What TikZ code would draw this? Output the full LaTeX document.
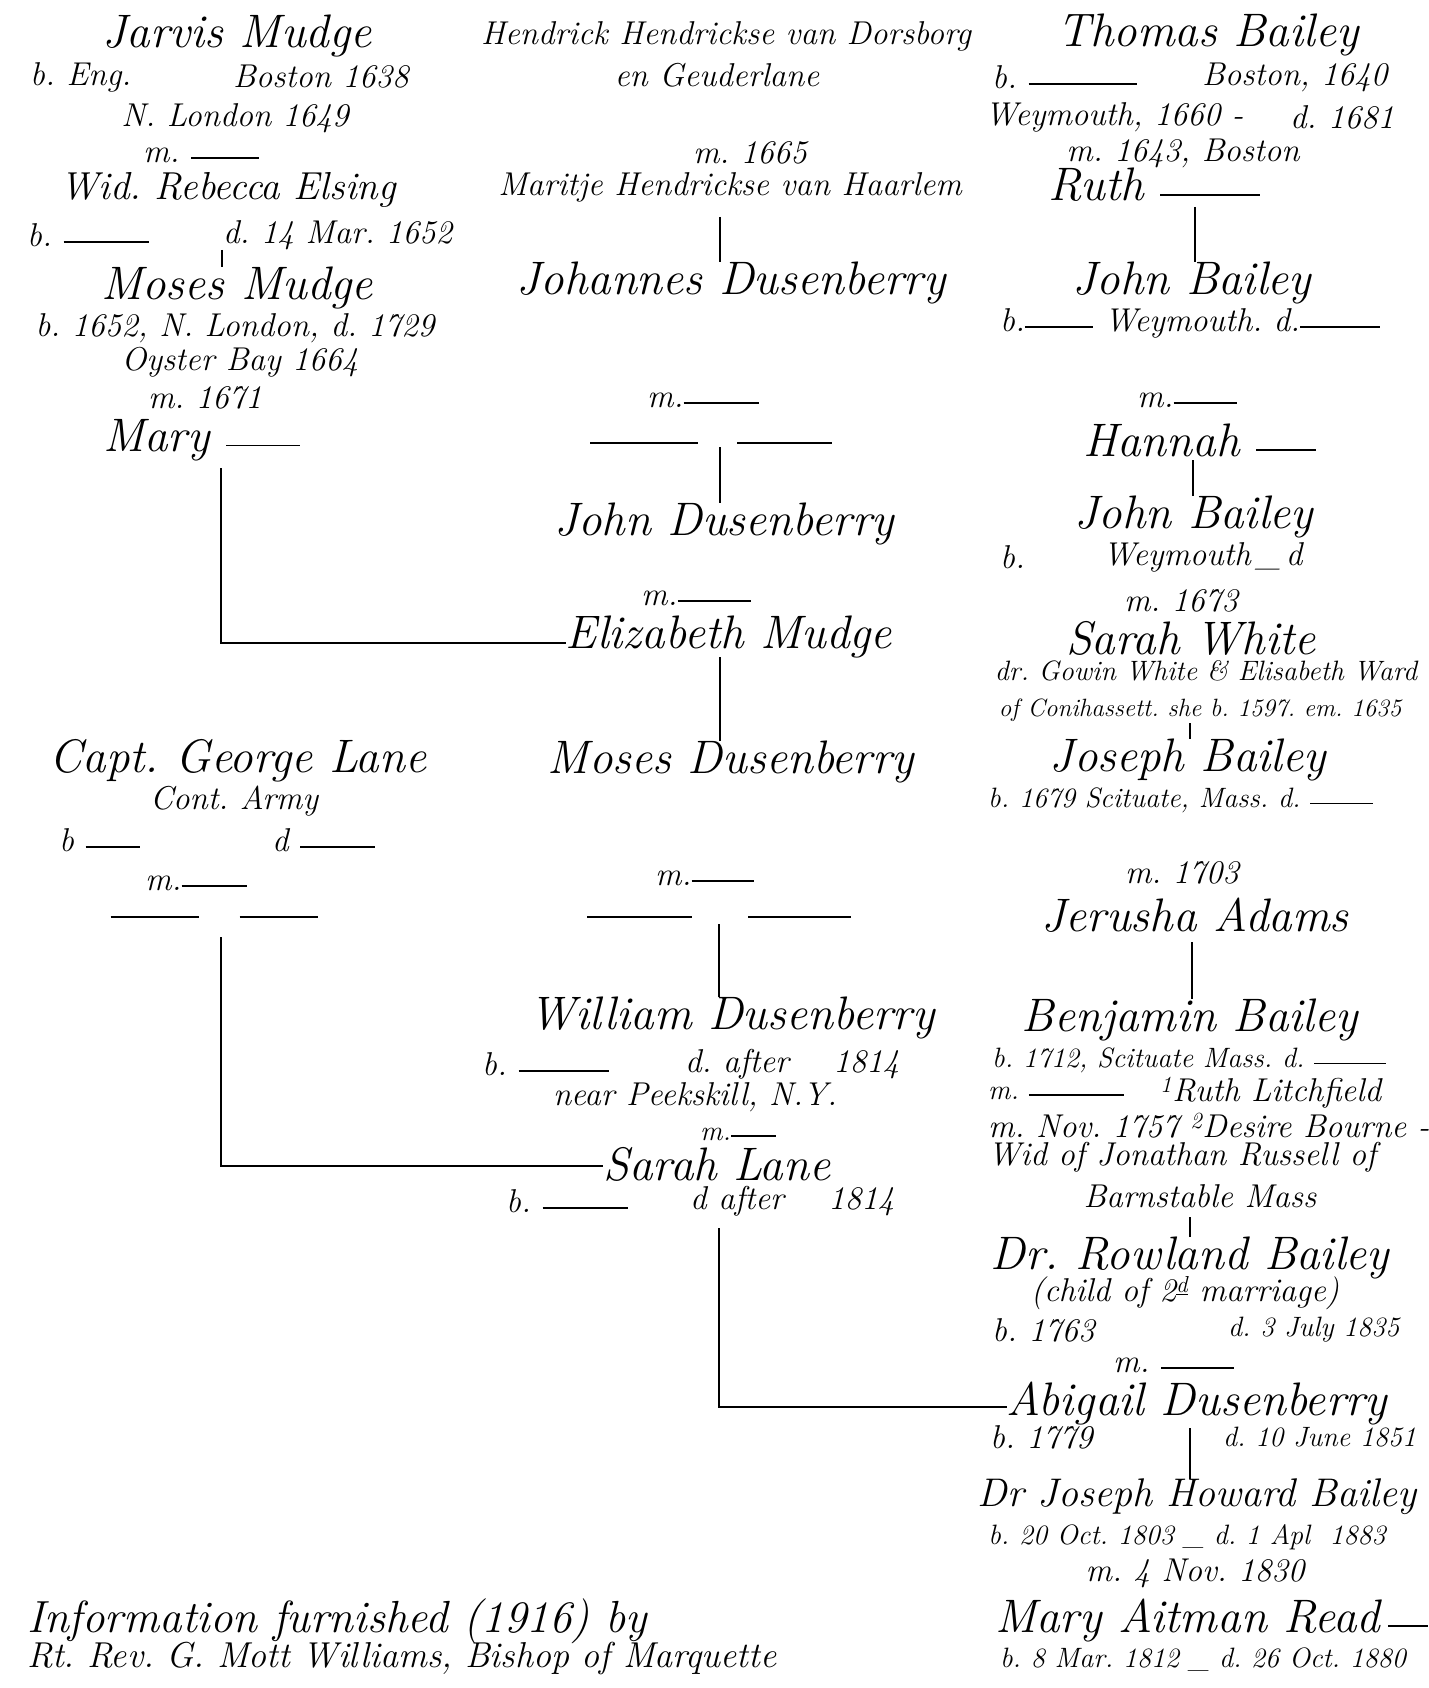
\documentclass[tikz,border=0pt]{standalone}
\usepackage{tikz}
\usetikzlibrary{positioning,calc}
\newcommand{\emptyln}[1]{\rule[0.25ex]{#1}{1.6pt}}
\frenchspacing

\begin{document}
\begin{tikzpicture}[x=1pt,y=-1pt,
				person/.style={font=\fontsize{47}{50}\selectfont\itshape, inner sep=0pt},
				midtxt/.style={font=\fontsize{39}{42}\selectfont\itshape, inner sep=0pt},
				info/.style={font=\fontsize{33}{36}\selectfont\itshape, inner sep=0pt},
				fine/.style={font=\fontsize{28}{31}\selectfont\itshape, inner sep=0pt},
				blanks/.style={inner sep=0pt},
				link/.style={line width=1.5pt}
				]
				\useasboundingbox (0,0) rectangle (1428,1688);
				
				% Mudge
				\node[person] (jarvis) at (237,36) {Jarvis Mudge};
				\node[info, anchor=west] (jarvisb) at (30,77) {b. Eng.};
				\node[info, anchor=west] (jarvisbo) at (233,77) {Boston 1638};
				\node[info] (jarvisl) at (235,118) {N. London 1649};
				\node[info, anchor=west] (jarvism) at (143,155) {m. \emptyln{68pt}};
				\node[midtxt] (rebecca) at (228,190) {Wid. Rebecca Elsing};
				\node[info, anchor=west] (rebeccab) at (27,235) {b. \emptyln{85pt}};
				\node[info, anchor=west] (rebeccad) at (223,235) {d. 14 Mar. 1652};
				\node[person] (moses) at (237,288) {Moses Mudge};
				\node[info] (mosesb) at (235,328) {b. 1652, N. London, d. 1729};
				\node[info] (moseso) at (240,362) {Oyster Bay 1664};
				\node[info] (mosesm) at (205,398) {m. 1671};
				\node[person, anchor=west] (mary) at (103,440) {Mary \emptyln{74pt}};
				
				% Lane
				\node[person] (george) at (238,761) {Capt. George Lane};
				\node[info] (army) at (234,801) {Cont. Army};
				\node[info, anchor=west] (georgeb) at (59,840) {b \emptyln{54pt}};
				\node[info, anchor=west] (georged) at (272,840) {d \emptyln{75pt}};
				\node[info, anchor=west] (georgem) at (145,883) {m.\emptyln{65pt}};
				\node[blanks] (georgew) at (214,917) {\rule{88pt}{1.6pt}\hspace{41pt}\rule{78pt}{1.6pt}};
				
				% Dusenberry
				\node[info] (hendrick) at (726,36) {Hendrick Hendrickse van Dorsborg};
				\node[info] (geuder) at (717,75) {en Geuderlane};
				\node[info] (hendrickm) at (750,153) {m. 1665};
				\node[info] (maritje) at (730,187) {Maritje Hendrickse van Haarlem};
				\node[person] (johannes) at (731,283) {Johannes Dusenberry};
				\node[info, anchor=west] (johannesm) at (647,400) {m.\emptyln{75pt}};
				\node[blanks] (johannesw) at (711,443) {\rule{108pt}{1.6pt}\hspace{39pt}\rule{95pt}{1.6pt}};
				\node[person] (johnd) at (724,524) {John Dusenberry};
				\node[info, anchor=west] (johndm) at (641,598) {m.\emptyln{73pt}};
				\node[person] (elizabeth) at (729,637) {Elizabeth Mudge};
				\node[person] (mosesd) at (731,762) {Moses Dusenberry};
				\node[info, anchor=west] (mosesdm) at (655,878) {m.\emptyln{62pt}};
				\node[blanks] (mosesdw) at (719,917) {\rule{105pt}{1.6pt}\hspace{56pt}\rule{103pt}{1.6pt}};
				\node[person] (william) at (732,1018) {William Dusenberry};
				\node[info, anchor=west] (williamb) at (482,1064) {b. \emptyln{90pt}};
				\node[info, anchor=west] (williamd) at (685,1064) {d. after \quad 1814};
				\node[info] (peekskill) at (695,1097) {near Peekskill, N.Y.};
				\node[fine, anchor=west] (williamm) at (700,1134) {m.\emptyln{45pt}};
				\node[person] (sarah) at (717,1164) {Sarah Lane};
				\node[info, anchor=west] (sarahb) at (506,1201) {b. \emptyln{85pt}};
				\node[info, anchor=west] (sarahd) at (690,1201) {d after \quad 1814};
				
				% Bailey
				\node[person] (thomas) at (1208,35) {Thomas Bailey};
				\node[info, anchor=west] (thomasb) at (992,77) {b. \emptyln{108pt}};
				\node[info, anchor=west] (thomasbo) at (1202,77) {Boston, 1640};
				\node[info, anchor=west] (thomasw) at (985,117) {Weymouth, 1660 -};
				\node[info, anchor=west] (thomasd) at (1290,117) {d. 1681};
				\node[info] (thomasm) at (1183,153) {m. 1643, Boston};
				\node[person, anchor=west] (ruth) at (1048,185) {Ruth \emptyln{100pt}};
				\node[person] (john1) at (1192,283) {John Bailey};
				\node[info, anchor=west] (john1b) at (1000,323) {b.\emptyln{68pt} Weymouth. d.\emptyln{80pt}};
				\node[info, anchor=west] (john1m) at (1137,400) {m.\emptyln{63pt}};
				\node[person, anchor=west] (hannah) at (1083,440) {Hannah \emptyln{60pt}};
				\node[person] (john2) at (1194,517) {John Bailey};
				\node[info, anchor=west] (john2b) at (1000,557) {b.};
				\node[info, anchor=west] (john2w) at (1103,557) {Weymouth\,\_\,d};
				\node[info] (john2m) at (1181,601) {m. 1673};
				\node[person] (sarahw) at (1191,638) {Sarah White};
				\node[fine] (sarahwd) at (1206,671) {dr. Gowin White \& Elisabeth Ward};
				\node[fine, font=\fontsize{25}{28}\selectfont\itshape] (sarahwo) at (1200,710) {of Conihassett. she b. 1597. em. 1635};
				\node[person] (joseph) at (1188,760) {Joseph Bailey};
				\node[fine, anchor=west] (josephb) at (988,800) {b. 1679 Scituate, Mass. d. \emptyln{63pt}};
				\node[info] (josephm) at (1182,873) {m. 1703};
				\node[person] (jerusha) at (1195,915) {Jerusha Adams};
				\node[person] (benjamin) at (1190,1020) {Benjamin Bailey};
				\node[fine, anchor=west] (benjaminb) at (992,1060) {b. 1712, Scituate Mass. d. \emptyln{72pt}};
				\node[fine, anchor=west] (benjaminm) at (988,1093) {m. \emptyln{95pt}};
				\node[info, anchor=west] (ruthl) at (1160,1093) {\textsuperscript{1}Ruth Litchfield};
				\node[info, anchor=west] (desire) at (988,1126) {m. Nov. 1757 \textsuperscript{2}Desire Bourne -};
				\node[info, anchor=west] (russell) at (988,1157) {Wid of Jonathan Russell of};
				\node[info] (barnstable) at (1200,1196) {Barnstable Mass};
				\node[person] (rowland) at (1190,1258) {Dr. Rowland Bailey};
				\node[info] (rowlandc) at (1185,1293) {(child of 2\textsuperscript{\underline{d}} marriage)};
				\node[info, anchor=west] (rowlandb) at (992,1330) {b. 1763};
				\node[fine, anchor=west] (rowlandd) at (1228,1330) {d. 3 July 1835};
				\node[info, anchor=west] (rowlandm) at (1113,1365) {m. \emptyln{73pt}};
				\node[person] (abigail) at (1197,1403) {Abigail Dusenberry};
				\node[info, anchor=west] (abigailb) at (990,1437) {b. 1779};
				\node[fine, anchor=west] (abigaild) at (1223,1437) {d. 10 June 1851};
				\node[person, font=\fontsize{40}{44}\selectfont\itshape] (howard) at (1197,1497) {Dr Joseph Howard Bailey};
				\node[fine] (howardb) at (1187,1537) {b. 20 Oct. 1803 \_ d. 1 Apl \ 1883};
				\node[info] (howardm) at (1195,1573) {m. 4 Nov. 1830};
				\node[person, anchor=west] (maryr) at (995,1620) {Mary Aitman Read\,\emptyln{40pt}};
				\node[fine] (maryrb) at (1203,1660) {b. 8 Mar. 1812 \_ d. 26 Oct. 1880};
				
				% source
				\node[person, anchor=west, font=\fontsize{45}{48}\selectfont\itshape] (credit1) at (27,1621) {Information furnished (1916) by};
				\node[info, anchor=west, font=\fontsize{36}{40}\selectfont\itshape] (credit2) at (27,1658) {Rt. Rev. G. Mott Williams, Bishop of Marquette};
				
				% lines of descent
				\coordinate (d1) at (222,250);
				\coordinate (d2) at (221,468);
				\coordinate (d3) at (720,217);
				\coordinate (d4) at (720,447);
				\coordinate (d5) at (720,657);
				\coordinate (d6) at (719,924);
				\coordinate (d7) at (221,937);
				\coordinate (d8) at (719,1228);
				\coordinate (d9) at (1195,207);
				\coordinate (d10) at (1193,460);
				\coordinate (d11) at (1190,723);
				\coordinate (d12) at (1192,942);
				\coordinate (d13) at (1190,1217);
				\coordinate (d14) at (1190,1428);
				
				\draw[link] (d1) -- (d1 |- moses.north);
				\draw[link] (d2) |- ([yshift=-6pt]elizabeth.west);
				\draw[link] (d3) -- (d3 |- johannes.north);
				\draw[link] (d4) -- (d4 |- johnd.north);
				\draw[link] (d5) -- (d5 |- mosesd.north);
				\draw[link] (d6) -- (d6 |- william.north);
				\draw[link] (d7) |- ([yshift=-2pt]sarah.west);
				\draw[link] (d8) |- ([yshift=-4pt]abigail.west);
				\draw[link] (d9) -- (d9 |- john1.north);
				\draw[link] (d10) -- (d10 |- john2.north);
				\draw[link] (d11) -- (d11 |- joseph.north);
				\draw[link] (d12) -- (d12 |- benjamin.north);
				\draw[link] (d13) -- (d13 |- rowland.north);
				\draw[link] (d14) -- (d14 |- howard.north);
			\end{tikzpicture}
\end{document}
